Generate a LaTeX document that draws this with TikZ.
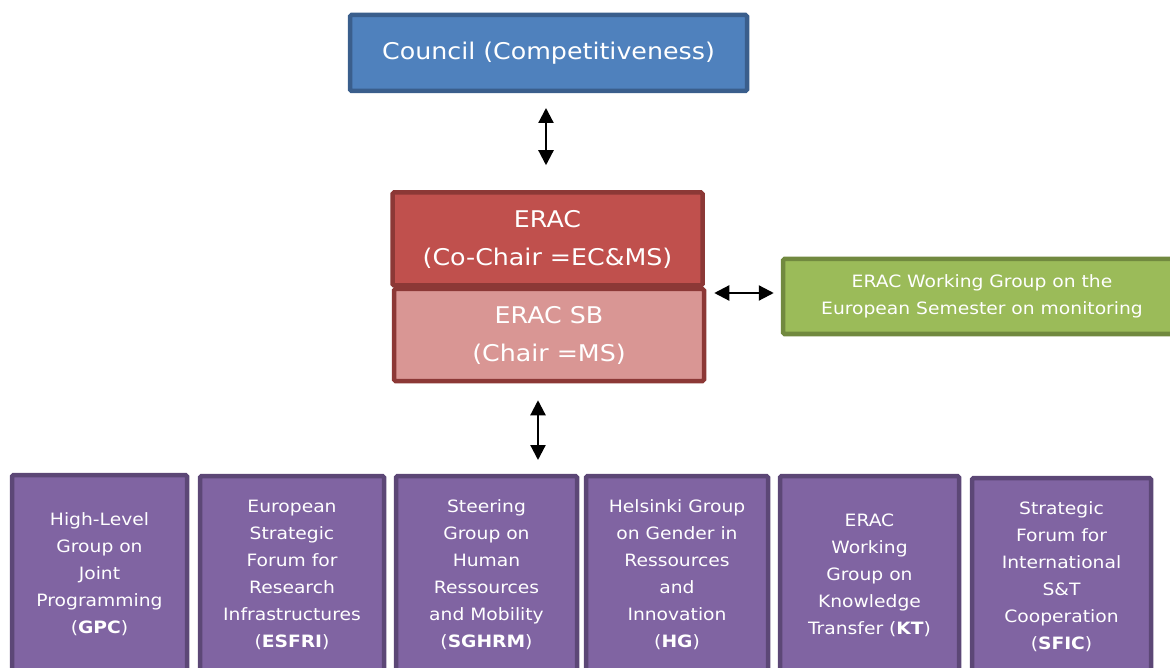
\documentclass[tikz,border=0pt]{standalone}
\usepackage{fontspec}
\setmainfont[FakeStretch=1.1]{DejaVu Sans}
\usetikzlibrary{arrows.meta}
\definecolor{cBlue}{HTML}{4F81BD}
\definecolor{cBlueD}{HTML}{3A5E8C}
\definecolor{cRed}{HTML}{C0504D}
\definecolor{cRedD}{HTML}{8C3836}
\definecolor{cPink}{HTML}{D99694}
\definecolor{cGreen}{HTML}{9BBB59}
\definecolor{cGreenD}{HTML}{71893F}
\definecolor{cPurp}{HTML}{8064A2}
\definecolor{cPurpD}{HTML}{5C4776}
\begin{document}
\begin{tikzpicture}[x=1pt,y=-1pt,
 box/.style={rectangle, rounded corners=1.5pt, line width=4.5pt, inner sep=0pt, text=white, align=center},
 big/.style={font=\fontsize{23}{38}\selectfont},
 small/.style={font=\fontsize{17}{27}\selectfont},
 bluebox/.style={box, big, fill=cBlue, draw=cBlueD},
 redbox/.style={box, big, fill=cRed, draw=cRedD},
 pinkbox/.style={box, big, fill=cPink, draw=cRedD},
 greenbox/.style={box, small, fill=cGreen, draw=cGreenD},
 purpbox/.style={box, small, fill=cPurp, draw=cPurpD, minimum height=198pt},
 arr/.style={line width=2.2pt, {Triangle[width=15pt,length=15pt]}-{Triangle[width=15pt,length=15pt]}}
]
\useasboundingbox (0,0) rectangle (1170,668);
\begin{scope}
\clip (0,0) rectangle (1170,668);
\node[bluebox, minimum width=397pt, minimum height=76pt] (council) at (548.5,53) {Council (Competitiveness)};
\node[redbox, minimum width=310pt, minimum height=93pt] (erac) at (547.5,239) {ERAC\\(Co-Chair =EC\&MS)};
\node[pinkbox, minimum width=310pt, minimum height=92pt] (sb) at (549,335) {ERAC SB\\(Chair =MS)};
\node[greenbox, minimum width=398pt, minimum height=75pt] (green) at (982,296.5) {ERAC Working Group on the\\European Semester on monitoring};

\node[purpbox, minimum width=175pt] (gpc) at (99.5,574) {High-Level\\Group on\\Joint\\Programming\\(\textbf{GPC})};
\node[purpbox, minimum width=184pt] (esfri) at (292,575) {European\\Strategic\\Forum for\\Research\\Infrastructures\\(\textbf{ESFRI})};
\node[purpbox, minimum width=181pt] (sghrm) at (486.5,575) {Steering\\Group on\\Human\\Ressources\\and Mobility\\(\textbf{SGHRM})};
\node[purpbox, minimum width=182pt] (hg) at (677,575) {Helsinki Group\\on Gender in\\Ressources\\and\\Innovation\\(\textbf{HG})};
\node[purpbox, minimum width=179pt] (kt) at (869.5,575) {ERAC\\Working\\Group on\\Knowledge\\Transfer (\textbf{KT})};
\node[purpbox, minimum width=179pt] (sfic) at (1061.5,577) {Strategic\\Forum for\\International\\S\&T\\Cooperation\\(\textbf{SFIC})};

\coordinate (vtop) at (546,93);
\draw[arr, shorten <=15pt, shorten >=25pt] (vtop) -- (vtop |- erac.north);
\coordinate (hy) at ([yshift=3.5pt]green.west);
\draw[arr, shorten <=8pt, shorten >=7pt] (sb.east |- hy) -- (hy);
\coordinate (rowtop) at (538,474);
\draw[arr, shorten <=17pt, shorten >=14pt] (sb.south -| rowtop) -- (rowtop);
\end{scope}
\end{tikzpicture}
\end{document}
